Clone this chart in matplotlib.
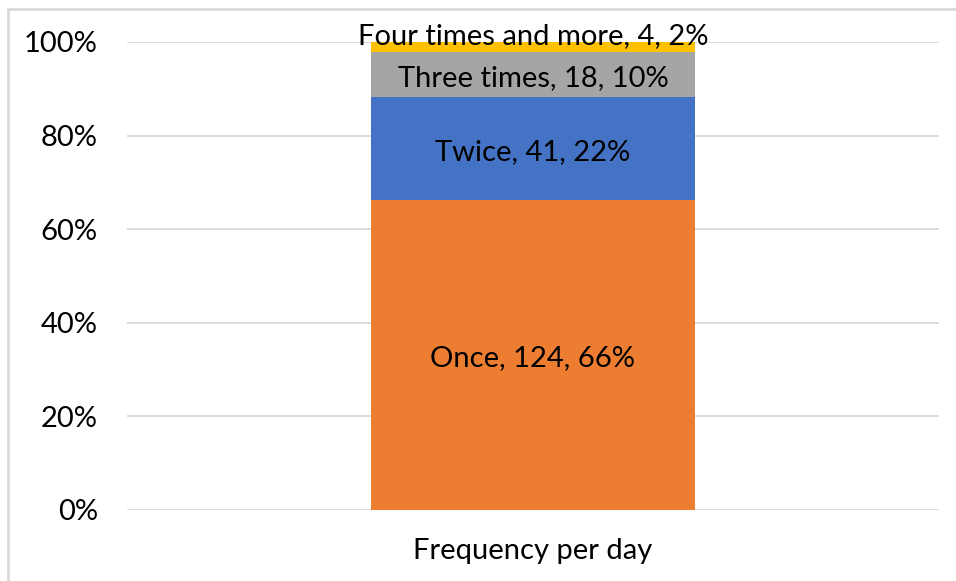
import matplotlib
matplotlib.use("Agg")
import matplotlib.pyplot as plt
from matplotlib.patches import Rectangle

categories = ["Once", "Twice", "Three times", "Four times and more"]
counts = [124, 41, 18, 4]
colors = ["#ED7D31", "#4472C4", "#A5A5A5", "#FFC000"]
group_label = "Frequency per day"
y_ticks = [0, 20, 40, 60, 80, 100]

plt.rcParams["font.family"] = ["Lato", "DejaVu Sans"]

W, H = 956, 581
FS = 21
fig = plt.figure(figsize=(W / 100, H / 100), dpi=100)
ax = fig.add_axes([127 / W, 1 - 510 / H, (939 - 127) / W, (510 - 42) / H])

total = sum(counts)
shares = [c / total * 100 for c in counts]

bottom = 0.0
for name, cnt, share, col in zip(categories, counts, shares, colors):
    ax.bar(0, share, width=0.4, bottom=bottom, color=col, zorder=3)
    label = f"{name}, {cnt}, {round(share)}%"
    yc = bottom + share / 2
    dy = 8 if share < 5 else -2.5
    ax.annotate(label, (0, yc), xytext=(0, dy), textcoords="offset points",
                ha="center", va="center", fontsize=FS, color="#000000", zorder=5)
    bottom += share

ax.set_xlim(-0.5, 0.5)
ax.set_ylim(0, 100)
ax.set_yticks(y_ticks)
ax.set_yticklabels([f"{t}%" for t in y_ticks])
ax.set_xticks([0])
ax.set_xticklabels([group_label])
ax.tick_params(axis="y", length=0, pad=21, labelsize=FS, colors="#000000")
ax.tick_params(axis="x", length=0, pad=20, labelsize=FS, colors="#000000")
ax.grid(axis="y", color="#D9D9D9", linewidth=1.3, zorder=0)
for s in ax.spines.values():
    s.set_visible(False)

# outer chart frame
fig.patches.append(Rectangle((8 / W, -0.05), 1.1, 1 - 9 / H + 0.05,
                             transform=fig.transFigure, fill=False,
                             edgecolor="#D9D9D9", linewidth=2))

fig.savefig("out.png", dpi=100)
